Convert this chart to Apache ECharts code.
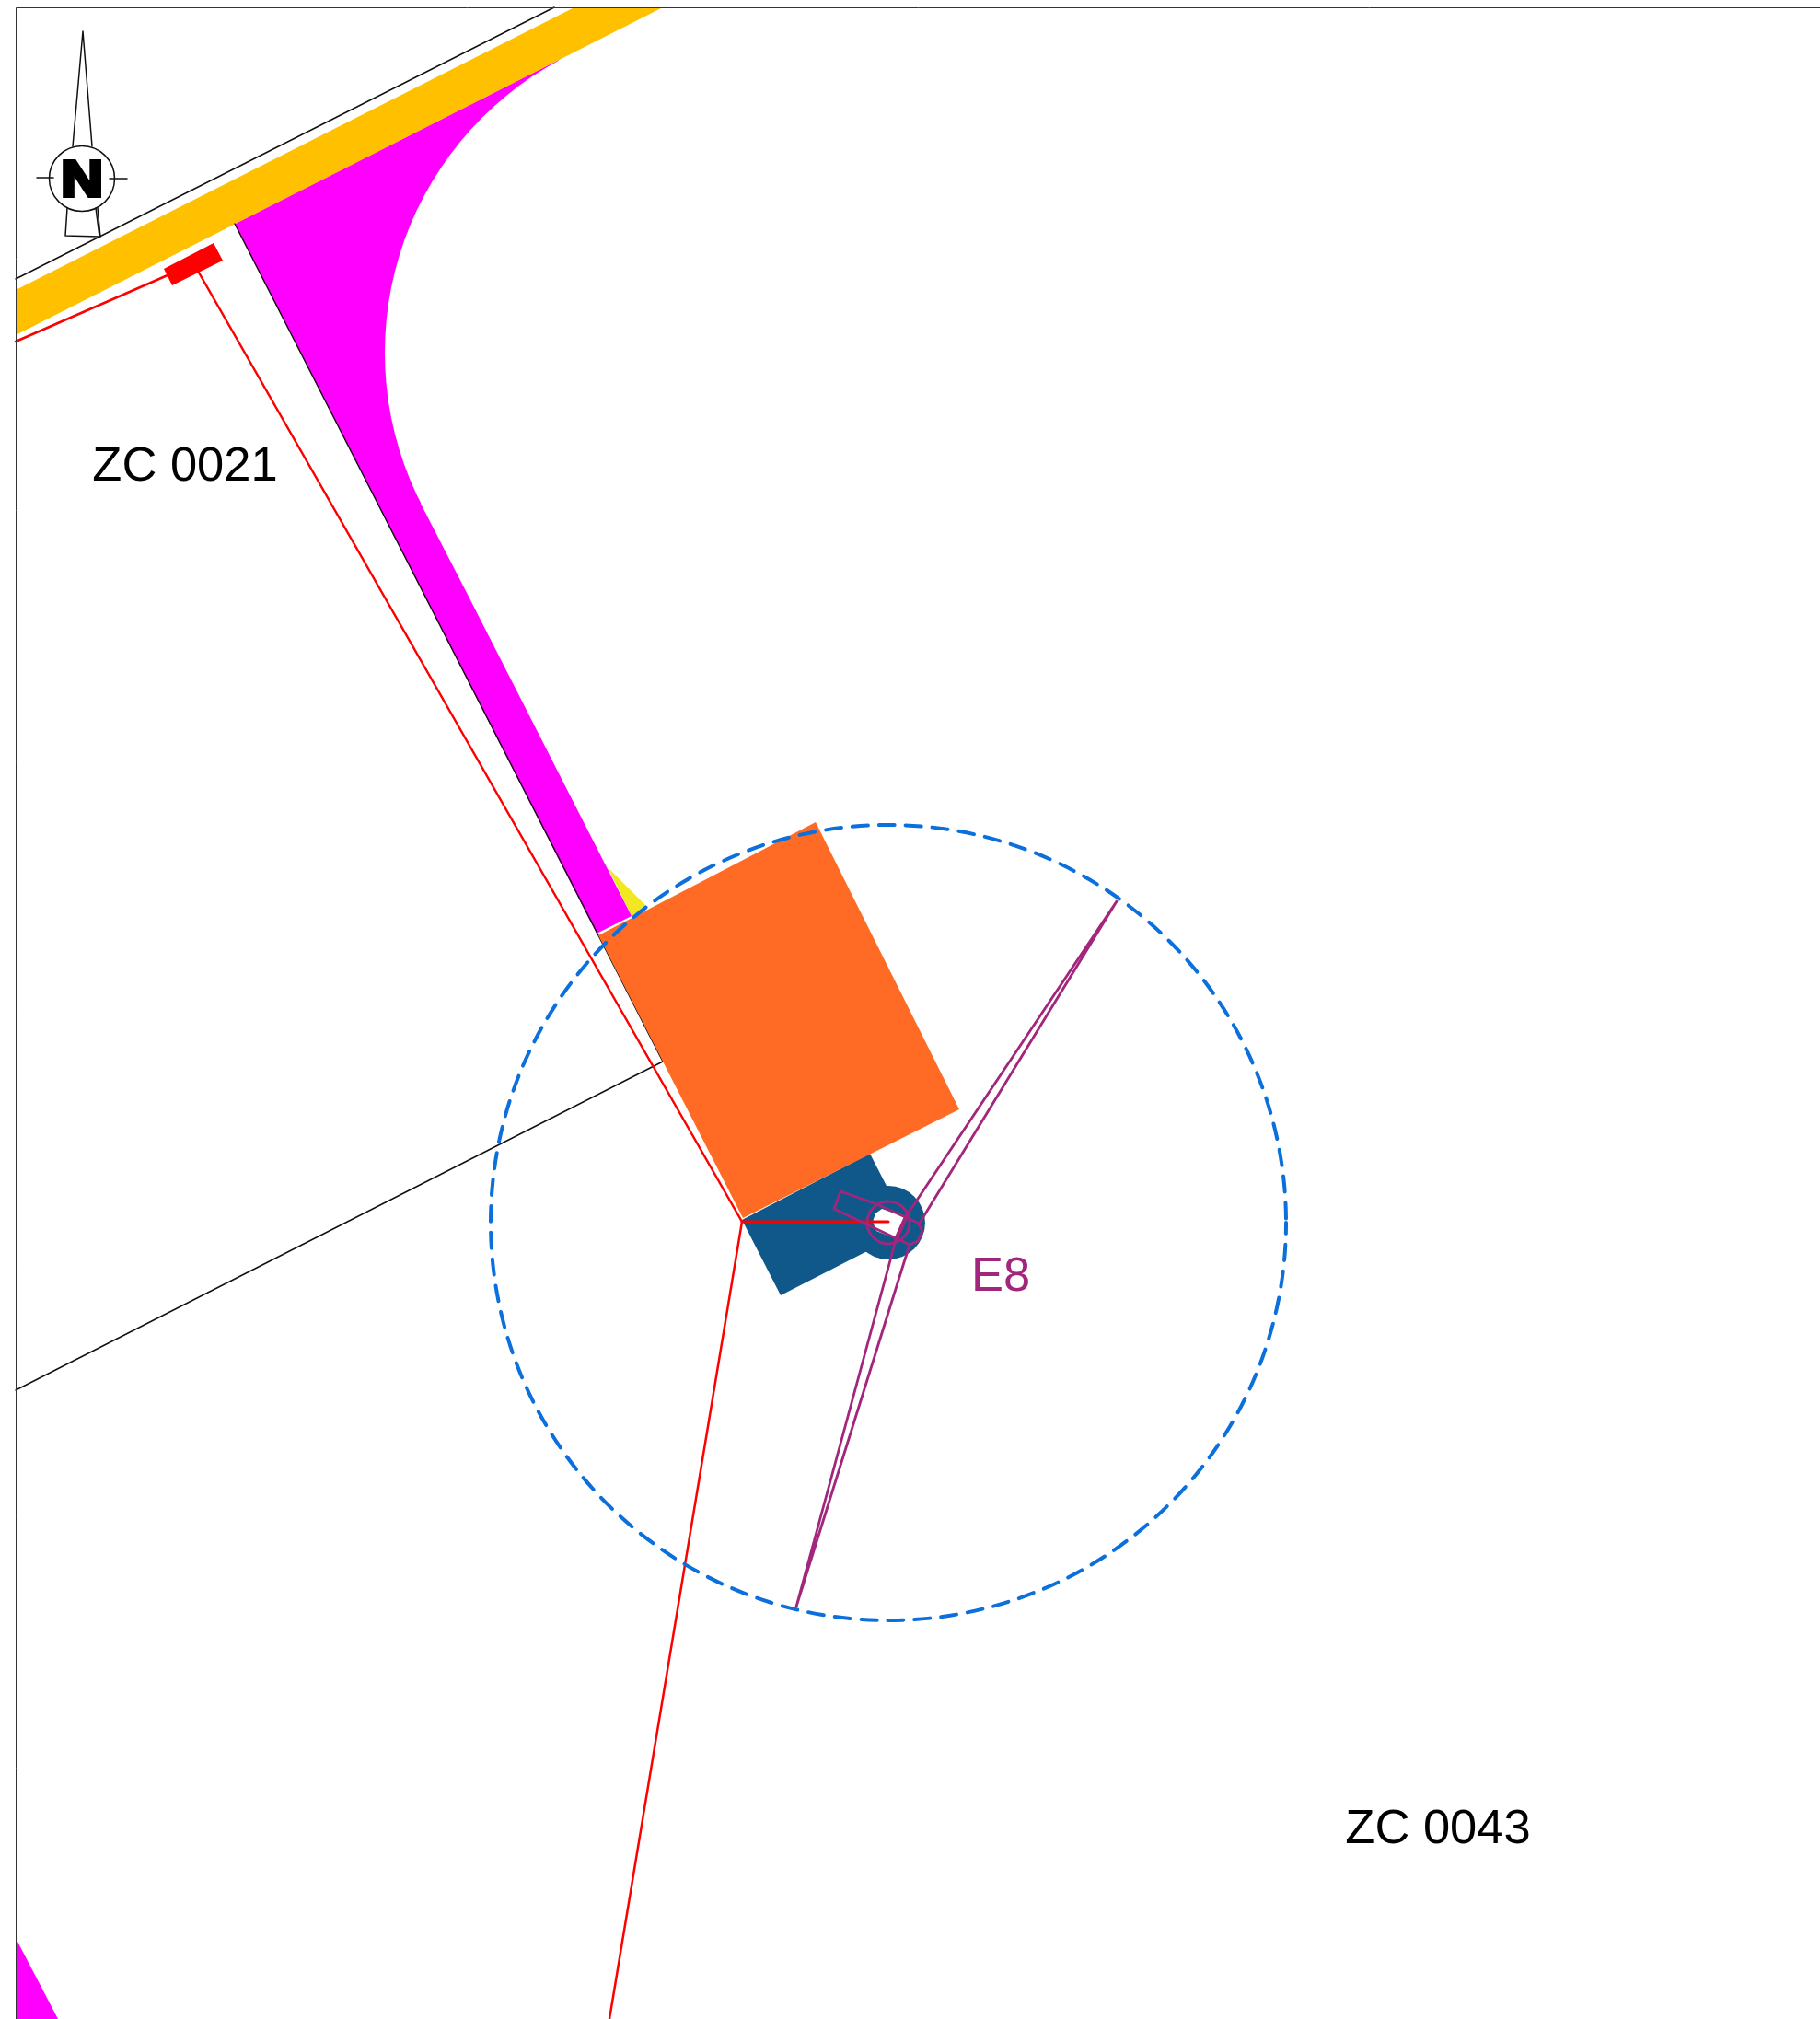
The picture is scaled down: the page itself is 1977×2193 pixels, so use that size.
<!DOCTYPE html>
<html>
<head>
<meta charset="utf-8">
<title>E8</title>
<style>
  html, body { margin: 0; padding: 0; background: #fff; }
  #chart { width: 1977px; height: 2193px; }
</style>
<script src="https://cdn.jsdelivr.net/npm/echarts@6/dist/echarts.min.js"></script>
</head>
<body>
<div id="chart"></div>
<script>
// site plan, all points in plan units
var frameLine = [[17.5, 2193], [17.5, 8.5], [1977, 8.5]];
var boundaryTop = [[17, 303], [602, 8]];
var boundaryMid = [[17, 1510], [720, 1153]];
var boundaryEdge = [[255, 243], [720, 1153]];

var roadBand = [[17, 315], [622, 9], [718, 9], [17, 364]];
// the curved side of the access road is the edge of filletCenter/filletRadius
var accessRoad = [[255, 243], [607, 65], [457, 547], [505, 640], [686, 995], [648, 1014]];
var filletCenter = [779, 383];
var filletRadius = 361;
var accessCorner = [[17, 2105], [63, 2193], [17, 2193]];
var yellowWedge = [[660, 942], [686, 995], [702, 984]];
var orangePad = [[886, 893], [1042, 1205], [807, 1323], [650, 1016]];
var bluePad = [[806, 1325], [945, 1253], [963, 1288], [985, 1340], [938, 1361], [848, 1407]];
var towerCenter = [965, 1328];
var towerRadius = 40;
var towerHole = [[948, 1327], [951, 1318], [958, 1313], [983, 1322], [972, 1345], [952, 1337], [948, 1327]];

var redBox = [[178, 292], [232, 264], [242, 283], [187, 310]];
var redLeft = [[182, 299], [17, 371]];
var redLong = [[216, 296], [806, 1327], [662, 2193]];
var redStub = [[806, 1327], [965, 1327]];

var bladeBody = [[913, 1294], [906, 1313], [988, 1352], [997, 1348], [1002, 1337], [997, 1328], [950, 1307], [913, 1294]];
var bladeNorth = [[985, 1320], [1213, 979], [998, 1330]];
var bladeSouth = [[973, 1347], [865, 1745], [988, 1352]];
var bladeBar = [[985, 1320], [973, 1347]];
var hubRadius = 23;

var sweepRadius = 432;

var needleUp = [[79, 159], [90, 34], [100, 159]];
var needleDown = [[73, 226], [71, 256], [108, 257], [104, 226]];
var needleDownInner = [[106, 226], [109, 257]];
var tickWest = [[40, 193], [58, 193]];
var tickEast = [[119, 194], [138, 194]];
var compassCenter = [89, 194];
var compassRadius = 35.5;

var plotLabels = ['ZC 0021', 'ZC 0043', 'E8', 'N'];
var plotLabelAt = [[201, 507.5], [1562, 1987.5], [1087, 1387.5], [89, 198]];

var MAGENTA = '#ff00ff', AMBER = '#ffc000', ORANGE = '#ff6a25', NAVY = '#10588a';
var PURPLE = '#a2267c', RED = '#ff0000', DASH = '#0b6fdc', YELLOW = '#f2e821';

function polygon(points, color, z) {
  return {
    type: 'custom',
    silent: true,
    z: z,
    data: [points[0]],
    renderItem: function(params, api) {
      return {
        type: 'polygon',
        shape: { points: points.map(function(p) { return api.coord(p); }) },
        style: { fill: color }
      };
    }
  };
}

function polyline(points, color, width, z) {
  return {
    type: 'line',
    silent: true,
    z: z,
    data: points,
    showSymbol: false,
    lineStyle: { color: color, width: width, cap: 'round', join: 'round' }
  };
}

function circle(center, radius, style, z) {
  return {
    type: 'custom',
    silent: true,
    z: z,
    data: [center],
    renderItem: function(params, api) {
      var c = api.coord(center);
      return {
        type: 'circle',
        shape: { cx: c[0], cy: c[1], r: api.size([radius, 0])[0] },
        style: style
      };
    }
  };
}

function label(index, color, size, z, heavy) {
  return {
    type: 'custom',
    silent: true,
    z: z,
    data: [plotLabelAt[index]],
    renderItem: function(params, api) {
      var c = api.coord(plotLabelAt[index]);
      return {
        type: 'text',
        x: c[0],
        y: c[1],
        scaleX: heavy ? 1.15 : 1,
        style: {
          text: plotLabels[index],
          fill: color,
          font: (heavy ? 'bold' : 'normal') + ' ' + size + 'px "Liberation Sans", Arial, sans-serif',
          textAlign: 'center',
          textVerticalAlign: 'middle',
          stroke: heavy ? color : null,
          lineWidth: heavy ? 4 : 0,
          lineJoin: 'miter'
        }
      };
    }
  };
}

var chart = echarts.init(document.getElementById('chart'));
chart.setOption({
  animation: false,
  backgroundColor: '#fff',
  grid: { left: 0, right: 0, top: 0, bottom: 0 },
  xAxis: { type: 'value', min: 0, max: 1977, show: false },
  yAxis: { type: 'value', min: 0, max: 2193, inverse: true, show: false },
  series: [
    polygon(yellowWedge, YELLOW, 1),
    polygon(accessRoad, MAGENTA, 2),
    circle(filletCenter, filletRadius, { fill: '#fff' }, 2),
    polygon(accessCorner, MAGENTA, 2),
    polygon(roadBand, AMBER, 3),
    polyline(boundaryTop, '#111', 1.5, 4),
    polyline(boundaryMid, '#111', 1.5, 4),
    polyline(boundaryEdge, '#111', 1.5, 4),
    polygon(bluePad, NAVY, 5),
    circle(towerCenter, towerRadius, { fill: NAVY }, 5),
    polygon(orangePad, ORANGE, 6),
    polygon(towerHole, '#fff', 7),
    polygon(redBox, RED, 8),
    polyline(redLeft, RED, 2.5, 8),
    polyline(redLong, RED, 2.5, 8),
    polyline(redStub, RED, 3, 8),
    polyline(bladeBody, PURPLE, 2.8, 9),
    polyline(bladeNorth, PURPLE, 2.8, 9),
    polyline(bladeSouth, PURPLE, 2.8, 9),
    polyline(bladeBar, PURPLE, 4.5, 9),
    circle(towerCenter, hubRadius, { fill: 'none', stroke: PURPLE, lineWidth: 2.8 }, 9),
    circle(towerCenter, sweepRadius, { fill: 'none', stroke: DASH, lineWidth: 4, lineDash: [17, 12], lineDashOffset: 5, lineCap: 'round' }, 10),
    polyline(frameLine, '#333', 1, 11),
    polyline(needleUp, '#111', 1.5, 12),
    polyline(needleDown, '#111', 1.5, 12),
    polyline(needleDownInner, '#111', 1.5, 12),
    polyline(tickWest, '#111', 1.5, 12),
    polyline(tickEast, '#111', 1.5, 12),
    circle(compassCenter, compassRadius, { fill: '#fff', stroke: '#111', lineWidth: 1.5 }, 12),
    label(0, '#000', 52.5, 13),
    label(1, '#000', 52.5, 13),
    label(2, PURPLE, 52.5, 13),
    label(3, '#000', 55, 13, true)
  ]
});
</script>
</body>
</html>
